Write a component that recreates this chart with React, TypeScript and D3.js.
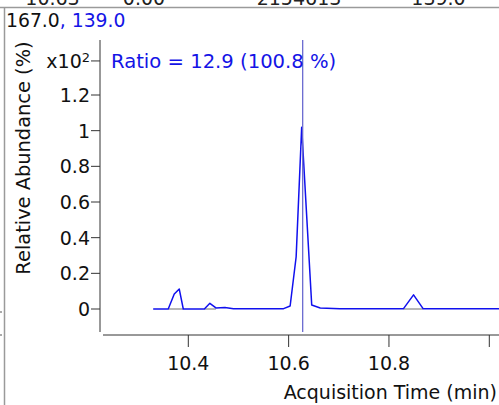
import React from "react";
import * as d3 from "d3";

const times = [10.330, 10.360, 10.372, 10.382, 10.390, 10.432, 10.443, 10.455, 10.473, 10.490, 10.590, 10.603, 10.615, 10.626, 10.646, 10.663, 10.702, 10.829, 10.849, 10.868, 11.02];
const abundance = [0, 0, 0.084, 0.112, 0, 0, 0.032, 0.006, 0.008, 0.002, 0.002, 0.017, 0.293, 1.019, 0.022, 0.006, 0.002, 0.002, 0.079, 0.002, 0.002];
const baselines: [number, number][] = [[10.360, 10.390], [10.432, 10.455], [10.829, 10.868]];
const xTicks = [10.4, 10.6, 10.8, 11.0];
const xTickLabels = ["10.4", "10.6", "10.8", ""];
const yTicks = [0, 0.2, 0.4, 0.6, 0.8, 1, 1.2];
const yTickLabels = ["0", "0.2", "0.4", "0.6", "0.8", "1", "1.2"];
const markerTime = 10.628;
const headerCells = ["10.63", "0.00", "2154613", "139.0"];
const headerX = [52.5, 144, 299, 438.5];

const FONT = "'DejaVu Sans', Verdana, sans-serif";
const FS = 19;

export default function App() {
  const W = 499, H = 405;
  const x = d3.scaleLinear().domain([10.4, 11.0]).range([188.3, 489.3]);
  const y = d3.scaleLinear().domain([0, 1.2]).range([309, 95]);
  const line = d3.line<number>().x((_, i) => x(times[i])).y((d) => y(d));
  const axisX = 100;
  const axisY = 335;
  return (
    <svg width={W} height={H} style={{ position: "absolute", left: 0, top: 0, background: "#fff" }} fontFamily={FONT}>
      {/* header cut row */}
      {headerCells.map((t, i) => (
        <text key={i} x={headerX[i]} y={5} fontSize={FS} textAnchor="middle" fill="#222">{t}</text>
      ))}
      <rect x={0} y={6.5} width={W} height={H} fill="#fff" />
      <line x1={0} x2={W} y1={7.5} y2={7.5} stroke="#9a9a9a" strokeWidth={1.5} />
      <line x1={4.5} x2={4.5} y1={7} y2={H} stroke="#9a9a9a" strokeWidth={1.5} />
      <line x1={0} x2={2} y1={312} y2={312} stroke="#555" />
      <line x1={0} x2={2} y1={335} y2={335} stroke="#555" />

      <text x={6} y={27} fontSize={18.8} fill="#111">167.0<tspan fill="#1414e6">, 139.0</tspan></text>

      {/* y axis */}
      <line x1={axisX} x2={axisX} y1={40} y2={332} stroke="#333" strokeWidth={1} />
      {yTicks.map((t, i) => (
        <g key={i}>
          <line x1={axisX - 9} x2={axisX} y1={y(t)} y2={y(t)} stroke="#333" />
          <text x={axisX - 10} y={y(t)} dy="0.36em" textAnchor="end" fontSize={FS} fill="#111">{yTickLabels[i]}</text>
        </g>
      ))}
      <line x1={axisX - 9} x2={axisX} y1={y(1.391)} y2={y(1.391)} stroke="#333" />
      <text x={axisX - 10} y={y(1.391)} dy="0.36em" textAnchor="end" fontSize={FS} fill="#111">x10<tspan dy="-0.45em" fontSize={13}>2</tspan></text>
      <text transform="translate(30,158) rotate(-90)" textAnchor="middle" fontSize={19.4} fill="#111">Relative Abundance (%)</text>

      {/* x axis */}
      <line x1={103} x2={W} y1={axisY} y2={axisY} stroke="#333" />
      {xTicks.map((t, i) => (
        <g key={i}>
          <line x1={x(t)} x2={x(t)} y1={axisY} y2={axisY + 12} stroke="#333" />
          <text x={x(t)} y={axisY + 35} textAnchor="middle" fontSize={FS} fill="#111">{xTickLabels[i]}</text>
        </g>
      ))}
      <text x={497} y={399} textAnchor="end" fontSize={FS} fill="#111">Acquisition Time (min)</text>

      {/* integration baselines */}
      {baselines.map(([a, b], i) => (
        <line key={i} x1={x(a)} x2={x(b)} y1={y(0)} y2={y(0)} stroke="#888" strokeWidth={1.2} />
      ))}
      {/* trace */}
      <path d={line(abundance) || ""} fill="none" stroke="#1010ee" strokeWidth={1.5} strokeLinejoin="round" />
      {/* marker */}
      <line x1={x(markerTime)} x2={x(markerTime)} y1={40} y2={332} stroke="#6a6ad0" strokeWidth={1.3} />
      <text x={111} y={y(1.391)} dy="0.36em" fontSize={19.6} fill="#1414e6">Ratio = 12.9 (100.8 %)</text>
    </svg>
  );
}
